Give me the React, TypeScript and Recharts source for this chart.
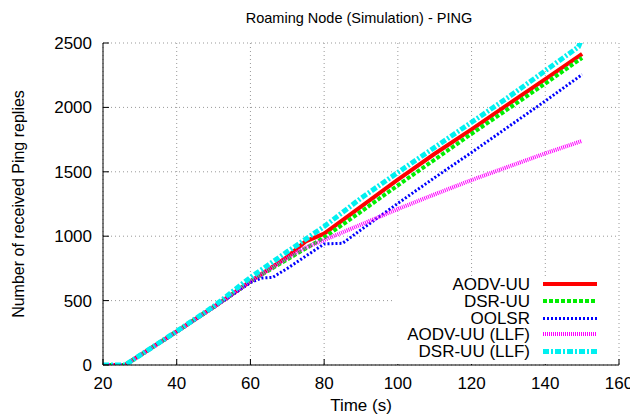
import React from 'react';
import { LineChart, Line, XAxis, YAxis, CartesianGrid, Legend } from 'recharts';

const FONT = '"Liberation Sans", Arial, Helvetica, sans-serif';

const xTicks = [20, 40, 60, 80, 100, 120, 140, 160];
const yTicks = [0, 500, 1000, 1500, 2000, 2500];

const aodvT = [20, 26, 40, 50, 60, 65, 70, 75, 80, 90, 100, 110, 120, 130, 140, 150];
const aodvV = [0, 0, 260, 450, 650, 745, 840, 960, 1020, 1230, 1440, 1640, 1830, 2025, 2220, 2415];

const dsrT = [20, 26, 40, 50, 60, 70, 80, 90, 100, 110, 120, 130, 140, 150];
const dsrV = [0, 0, 260, 450, 650, 820, 990, 1190, 1395, 1595, 1795, 1990, 2185, 2385];

const oolsrT = [20, 26, 40, 50, 60, 63, 66, 70, 75, 80, 85, 90, 100, 110, 120, 130, 140, 150];
const oolsrV = [0, 0, 255, 445, 640, 675, 680, 750, 845, 940, 945, 1050, 1255, 1455, 1650, 1850, 2050, 2255];

const aodvLlfT = [20, 26, 40, 50, 60, 70, 74, 80, 90, 100, 110, 120, 130, 140, 150];
const aodvLlfV = [0, 0, 260, 450, 650, 830, 900, 970, 1090, 1211, 1325, 1436, 1540, 1643, 1740];

const dsrLlfT = [20, 26, 40, 50, 60, 70, 80, 90, 100, 110, 120, 130, 140, 149, 150];
const dsrLlfV = [0, 0, 262, 455, 680, 880, 1075, 1295, 1495, 1690, 1885, 2080, 2285, 2470, 2540];

const toPoints = (t: number[], v: number[]) => t.map((x, i) => ({ t: x, v: v[i] }));

const series = [
  { name: 'AODV-UU', data: toPoints(aodvT, aodvV), color: '#ff0000', width: 4, dash: undefined as string | undefined },
  { name: 'DSR-UU', data: toPoints(dsrT, dsrV), color: '#00ee00', width: 4, dash: '4 2' },
  { name: 'OOLSR', data: toPoints(oolsrT, oolsrV), color: '#0000ff', width: 3, dash: '2 2' },
  { name: 'AODV-UU (LLF)', data: toPoints(aodvLlfT, aodvLlfV), color: '#ff00ff', width: 4, dash: '1 1' },
  { name: 'DSR-UU (LLF)', data: toPoints(dsrLlfT, dsrLlfV), color: '#00f0f0', width: 5, dash: '6 2 2 2' },
];

const legendRows = [8, 25, 42, 58, 75];

const renderLegend = () => (
  <svg width={224} height={88} style={{ display: 'block', background: '#fff' }}>
    {series.map((s, i) => {
      const y = legendRows[i];
      return (
        <g key={s.name}>
          <text x={137} y={y} textAnchor="end" dominantBaseline="central" fontSize={17} fontFamily={FONT} fill="#000">
            {s.name}
          </text>
          <line
            x1={150}
            x2={204}
            y1={y}
            y2={y}
            stroke={s.color}
            strokeWidth={s.width}
            strokeDasharray={s.dash}
            shapeRendering="crispEdges"
          />
        </g>
      );
    })}
  </svg>
);

const tickStyle = { fontSize: 17, fontFamily: FONT, fill: '#000' };

export default function App() {
  return (
    <div style={{ position: 'relative', width: 630, height: 410 }}>
      <LineChart width={630} height={410} margin={{ top: 35, right: 19, bottom: 23, left: 0 }}>
        <CartesianGrid stroke="#999" strokeDasharray="1 3" strokeWidth={1} />
        <XAxis
          type="number"
          dataKey="t"
          domain={[20, 160]}
          ticks={xTicks}
          allowDataOverflow
          height={30}
          tickSize={-6}
          tickMargin={18}
          tick={tickStyle}
          stroke="#000"
          axisLine={{ stroke: '#000' }}
          tickLine={{ stroke: '#000' }}
        />
        <XAxis
          xAxisId="top"
          orientation="top"
          type="number"
          dataKey="t"
          domain={[20, 160]}
          ticks={xTicks}
          allowDataOverflow
          height={0}
          tickSize={-6}
          tick={false}
          axisLine={{ stroke: '#000' }}
          tickLine={{ stroke: '#000' }}
        />
        <YAxis
          type="number"
          domain={[0, 2500]}
          ticks={yTicks}
          allowDataOverflow
          width={95}
          tickSize={-6}
          tickMargin={17}
          tick={tickStyle}
          axisLine={{ stroke: '#000' }}
          tickLine={{ stroke: '#000' }}
        />
        <YAxis
          yAxisId="right"
          orientation="right"
          type="number"
          domain={[0, 2500]}
          ticks={yTicks}
          allowDataOverflow
          width={0}
          tickSize={-6}
          tick={false}
          axisLine={{ stroke: '#000' }}
          tickLine={{ stroke: '#000' }}
        />
        {series.map((s) => (
          <Line
            key={s.name}
            data={s.data}
            dataKey="v"
            name={s.name}
            type="linear"
            stroke={s.color}
            strokeWidth={s.width}
            strokeDasharray={s.dash}
            dot={false}
            activeDot={false}
            isAnimationActive={false}
          />
        ))}
        <Legend
          layout="vertical"
          align="center"
          verticalAlign="middle"
          content={renderLegend}
          wrapperStyle={{ left: 385, top: 268, width: 224, height: 88 }}
        />
      </LineChart>
      <svg
        width={630}
        height={410}
        style={{ position: 'absolute', left: 0, top: 0, pointerEvents: 'none' }}
      >
        <text x={351} y={10} textAnchor="middle" dominantBaseline="central" fontSize={14.5} fontFamily={FONT} fill="#000">
          Roaming Node (Simulation) - PING
        </text>
        <text x={353} y={397} textAnchor="middle" dominantBaseline="central" fontSize={17} fontFamily={FONT} fill="#000">
          Time (s)
        </text>
        <text
          x={10}
          y={196}
          textAnchor="middle"
          dominantBaseline="central"
          fontSize={16}
          fontFamily={FONT}
          fill="#000"
          transform="rotate(-90 10 196)"
        >
          Number of received Ping replies
        </text>
      </svg>
    </div>
  );
}
